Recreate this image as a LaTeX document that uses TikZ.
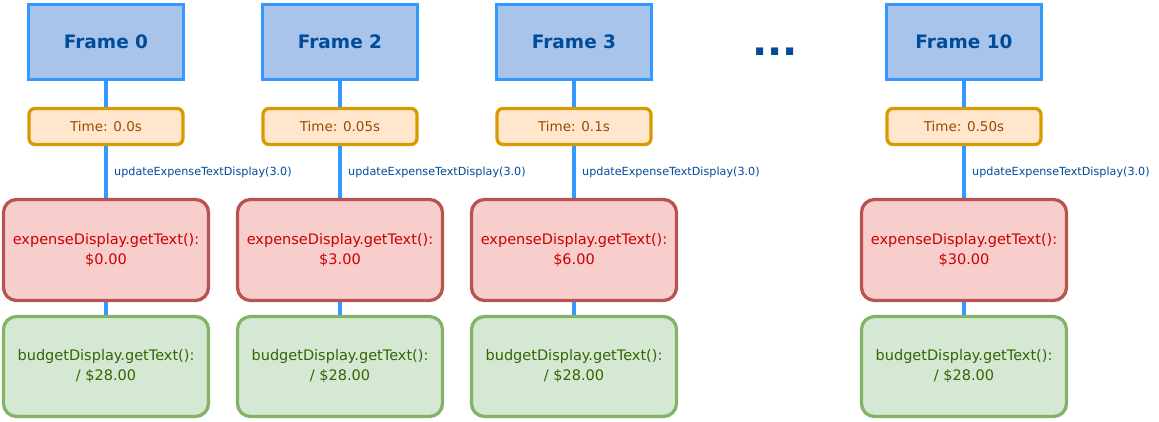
\documentclass[tikz,border=0pt]{standalone}
\usepackage{fontspec}
\setmainfont{DejaVu Sans}
\usetikzlibrary{positioning}

\definecolor{frameline}{HTML}{3399FF}
\definecolor{framefill}{HTML}{A9C4EB}
\definecolor{framefont}{HTML}{004C99}
\definecolor{timeline}{HTML}{D79B00}
\definecolor{timefill}{HTML}{FFE6CC}
\definecolor{timefont}{HTML}{994C00}
\definecolor{expline}{HTML}{B85450}
\definecolor{expfill}{HTML}{F8CECC}
\definecolor{expfont}{HTML}{CC0000}
\definecolor{budline}{HTML}{82B366}
\definecolor{budfill}{HTML}{D5E8D4}
\definecolor{budfont}{HTML}{336600}

\tikzset{
  framebox/.style={draw=frameline,fill=framefill,line width=3.3pt,minimum width=155pt,minimum height=75pt,
    inner sep=0pt,text=framefont,font=\fontsize{18.5}{22}\selectfont\bfseries},
  timebox/.style={draw=timeline,fill=timefill,line width=3.3pt,rounded corners=6pt,minimum width=154pt,
    minimum height=36pt,inner sep=0pt,text=timefont,font=\fontsize{13.5}{16}\selectfont},
  expbox/.style={draw=expline,fill=expfill,line width=3.3pt,rounded corners=13pt,minimum width=205pt,
    minimum height=101pt,inner sep=0pt,align=center,text=expfont,font=\fontsize{14.5}{20}\selectfont},
  budbox/.style={draw=budline,fill=budfill,line width=3.3pt,rounded corners=13pt,minimum width=205pt,
    minimum height=100pt,inner sep=0pt,align=center,text=budfont,font=\fontsize{14.5}{20}\selectfont},
  link/.style={draw=frameline,line width=3.3pt},
  calllabel/.style={anchor=west,inner sep=0pt,xshift=8pt,text=framefont,font=\fontsize{11.2}{13}\selectfont}
}

\begin{document}
\begin{tikzpicture}[x=1pt,y=-1pt]
\useasboundingbox (0,0) rectangle (1159,422);

\foreach \x/\n/\t/\e [count=\i] in {106/0/0.0s/0.00, 340/2/0.05s/3.00, 574/3/0.1s/6.00, 964/10/0.50s/30.00}{
  \node[budbox] (b\i) at (\x,366.5) {budgetDisplay.getText():\\/ \$28.00};
  \draw[link] (\x,146) -- (b\i.north);
  \node[framebox] (f\i) at (\x,42) {Frame \n};
  \node[timebox] (t\i) at (\x,126.5) {Time: \t};
  \node[expbox] (e\i) at (\x,250) {expenseDisplay.getText():\\\$\e};
  \draw[link] (f\i) -- (t\i);
  \path (t\i) -- node[calllabel,pos=0.5]{updateExpenseTextDisplay(3.0)} (e\i);
}

% dots between the columns
\node[text=framefont,font=\fontsize{40}{40}\selectfont\bfseries,inner sep=0pt] (dots) at (775,52) {...};

\end{tikzpicture}
\end{document}
